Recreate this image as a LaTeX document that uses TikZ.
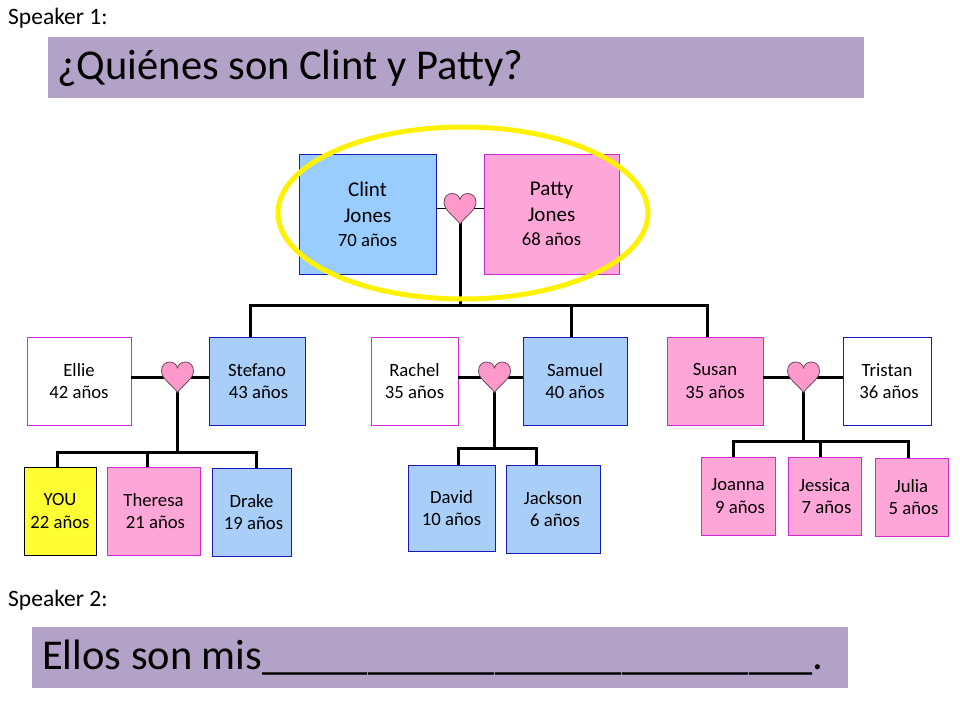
\documentclass[tikz,border=0pt]{standalone}
\usepackage{fontspec}
\setmainfont{Carlito}
\definecolor{lav}{HTML}{B3A2C7}
\definecolor{blueA}{HTML}{99CCFF}
\definecolor{blueC}{HTML}{A9CFF9}
\definecolor{pinkA}{HTML}{FFA6D8}
\definecolor{blueB}{HTML}{1A1AB8}
\definecolor{magB}{HTML}{D22AD2}
\definecolor{yelF}{HTML}{FFFF33}
\definecolor{heartF}{HTML}{FF99CC}
\definecolor{heartB}{HTML}{6B4A5E}
\definecolor{ringY}{HTML}{FFF200}
\tikzset{
  person/.style={rectangle, inner sep=0pt, outer sep=0pt, line width=1pt, align=center,
    font=\fontsize{18.7}{22.4}\selectfont},
  bluebox/.style={person, fill=blueC, draw=blueB},
  bigblue/.style={person, fill=blueA, draw=blueB},
  pinkbox/.style={person, fill=pinkA, draw=magB},
  whitem/.style={person, fill=white, draw=magB},
  whiteb/.style={person, fill=white, draw=blueB},
  youbox/.style={person, fill=yelF, draw=black},
  thickline/.style={line width=3pt, draw=black, line join=miter},
  thinline/.style={line width=1.5pt, draw=black},
  banner/.style={fill=lav, draw=none},
  speaker/.style={anchor=west, inner sep=0pt, font=\fontsize{23.5}{27}\selectfont},
  bigtext/.style={anchor=west, inner sep=0pt, font=\fontsize{42.5}{48}\selectfont},
  heart/.pic={
    \draw[fill=heartF, draw=heartB, line width=0.8pt]
      (0,15.5) .. controls (-5,8) and (-16,2) .. (-16,-6)
      .. controls (-16,-12) and (-12,-15) .. (-8,-15)
      .. controls (-4,-15) and (-1,-13) .. (0,-9)
      .. controls (1,-13) and (4,-15) .. (8,-15)
      .. controls (12,-15) and (16,-12) .. (16,-6)
      .. controls (16,2) and (5,8) .. (0,15.5) -- cycle;
  }
}
\begin{document}
\begin{tikzpicture}[x=1pt,y=-1pt]
\useasboundingbox (0,0) rectangle (960,720);
\fill[white] (0,0) rectangle (960,720);

% top banner
\node[speaker] (sp1) at (8,18) {Speaker 1:};
\fill[banner] (48,37) rectangle (864,98);
\node[bigtext] (q) at (57,68) {¿Quiénes son Clint y Patty?};

% bottom banner
\node[speaker] (sp2) at (8,600) {Speaker 2:};
\fill[banner] (32,627) rectangle (848,688);
\node[bigtext] (a) at (42,658) {Ellos son mis\_\_\_\_\_\_\_\_\_\_\_\_\_\_\_\_\_\_\_\_\_\_\_\_\_\_.};

% grandparents
\node[bigblue, minimum width=137, minimum height=120] (clint) at (367.5,214)
  {\fontsize{21}{25.6}\selectfont Clint\\[3.5pt]\fontsize{21}{25.6}\selectfont Jones\\[1.5pt]\fontsize{18.7}{22}\selectfont 70 años};
\node[pinkbox, minimum width=135, minimum height=120] (patty) at (551.5,214)
  {\fontsize{21}{25.6}\selectfont Patty\\[3.5pt]\fontsize{21}{25.6}\selectfont Jones\\[1.5pt]\fontsize{18.7}{22}\selectfont 68 años};

% second generation
\node[whitem, minimum width=104, minimum height=88] (ellie) at (79,381) {Ellie\\42 años};
\node[bluebox, minimum width=96, minimum height=88] (stefano) at (257,381) {Stefano\\\hspace*{3pt}43 años};
\node[whitem, minimum width=87, minimum height=88] (rachel) at (414.5,381) {Rachel\\35 años};
\node[bluebox, minimum width=104, minimum height=88] (samuel) at (575,381) {Samuel\\40 años};
\node[pinkbox, minimum width=96, minimum height=88] (susan) at (715,381) {Susan\\35 años};
\node[whiteb, minimum width=88, minimum height=88] (tristan) at (887,381) {Tristan\\\hspace*{4pt}36 años};

% third generation
\node[youbox, minimum width=72, minimum height=88] (you) at (60,511) {YOU\\22 años};
\node[pinkbox, minimum width=93, minimum height=88] (theresa) at (153.5,511) {Theresa\\\hspace*{4pt}21 años};
\node[bluebox, minimum width=79, minimum height=88] (drake) at (251.5,512) {Drake\\\hspace*{4pt}19 años};
\node[bluebox, minimum width=87, minimum height=86] (david) at (451.5,508) {David\\10 años};
\node[bluebox, minimum width=94, minimum height=88] (jackson) at (553,509) {Jackson\\\hspace*{4pt}6 años};
\node[pinkbox, minimum width=74, minimum height=78] (joanna) at (738,496) {Joanna\\\hspace*{4pt}9 años};
\node[pinkbox, minimum width=73, minimum height=78] (jessica) at (824.5,496) {Jessica\\\hspace*{4pt}7 años};
\node[pinkbox, minimum width=73, minimum height=78] (julia) at (911.5,497) {Julia\\\hspace*{4pt}5 años};

% hearts and junctions
\coordinate (hA) at (460,208.5);
\coordinate (jA) at (460,305);
\coordinate (hB) at (177.5,377);
\coordinate (jB) at (177.5,452);
\coordinate (hC) at (494.5,377);
\coordinate (jC) at (494.5,448);
\coordinate (hD) at (803.5,377);
\coordinate (jD) at (803.5,441);

% couple lines
\draw[thinline] (clint.east |- hA) -- (patty.west |- hA);
\draw[thickline] (ellie.east |- hB) -- (stefano.west |- hB);
\draw[thickline] (rachel.east |- hC) -- (samuel.west |- hC);
\draw[thickline] (susan.east |- hD) -- (tristan.west |- hD);

% descent lines
\draw[thickline] (hA) -- (jA);
\draw[thickline] ([xshift=-7pt]stefano.north) |- (jA) -| ([xshift=-8pt]susan.north);
\draw[thickline] ([xshift=-4pt]samuel.north |- jA) -- ([xshift=-4pt]samuel.north);

\draw[thickline] (hB) -- (jB);
\draw[thickline] ([xshift=-3pt]you.north) |- (jB) -| ([xshift=4.5pt]drake.north);
\draw[thickline] ([xshift=-6.5pt]theresa.north |- jB) -- ([xshift=-6.5pt]theresa.north);

\draw[thickline] (hC) -- (jC);
\draw[thickline] ([xshift=6.5pt]david.north) |- (jC) -| ([xshift=-17pt]jackson.north);

\draw[thickline] (hD) -- (jD);
\draw[thickline] ([xshift=-5pt]joanna.north) |- (jD) -| ([xshift=-3.5pt]julia.north);
\draw[thickline] ([xshift=-4.5pt]jessica.north |- jD) -- ([xshift=-4.5pt]jessica.north);

% hearts
\pic at (hA) {heart};
\pic at (hB) {heart};
\pic at (hC) {heart};
\pic at (hD) {heart};

% highlight ring
\draw[ringY, line width=5pt] (463,213) ellipse [x radius=185, y radius=86];
\end{tikzpicture}
\end{document}
